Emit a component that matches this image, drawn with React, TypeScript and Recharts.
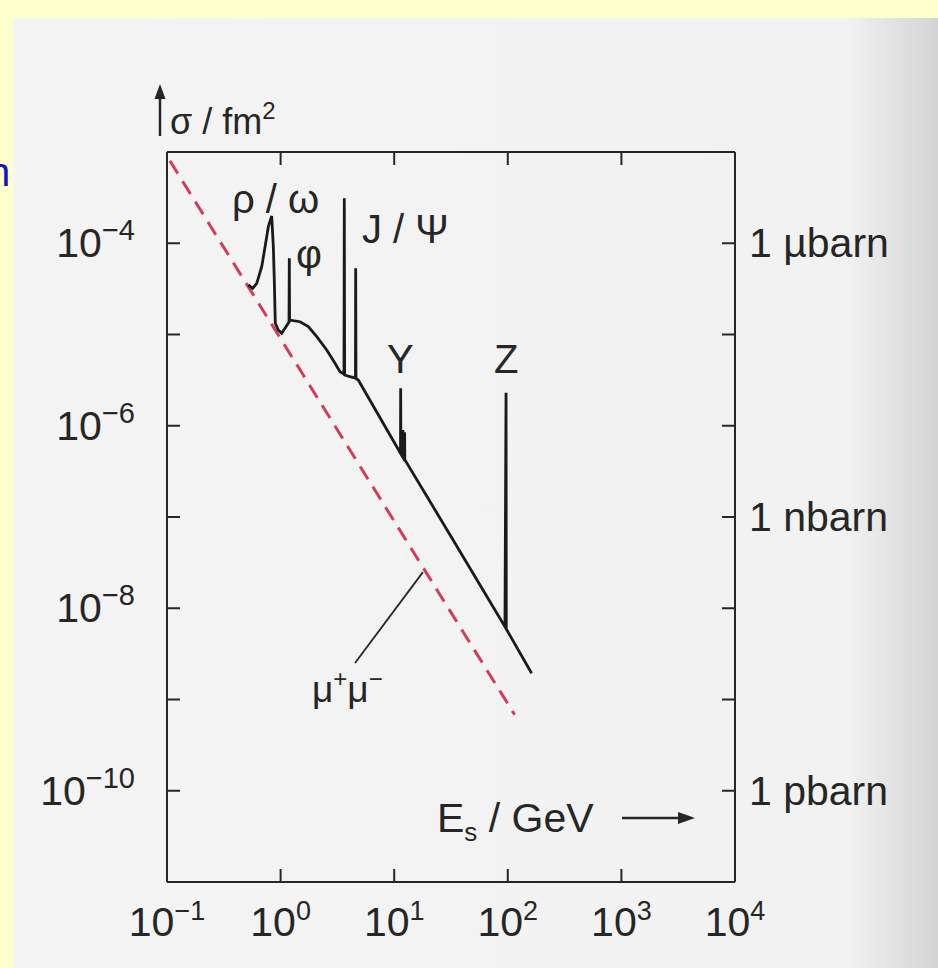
import React from 'react';
import { LineChart, Line, XAxis, YAxis } from 'recharts';

// e+e- -> hadrons: energy in GeV, cross section in fm^2
const hadronE = [
  0.52, 0.568, 0.617, 0.682, 0.73, 0.78, 0.835, 0.863, 0.88, 0.898, 0.954, 1.023, 1.093,
  1.186, 1.193, 1.2, 1.483, 1.754, 2.08, 2.547, 3.013, 3.334, 3.614, 3.637, 3.66, 4.08,
  4.56, 4.58, 4.61, 4.83, 7.35, 11.36, 11.4, 11.45, 11.9, 11.95, 12.0, 12.3, 12.35, 12.4,
  33, 94.4, 96.5, 97, 162,
];
const hadronSigma = [
  3.49e-5, 3.21e-5, 3.64e-5, 5.53e-5, 9.16e-5, 1.52e-4, 1.99e-4, 9.16e-5, 3.95e-5, 1.33e-5,
  1.12e-5, 1.03e-5, 1.17e-5, 1.37e-5, 6.84e-5, 1.44e-5, 1.38e-5, 1.22e-5, 9.46e-6, 6.76e-6,
  4.83e-6, 3.91e-6, 3.69e-6, 3.11e-4, 3.6e-6, 3.45e-6, 3.33e-6, 5.31e-5, 3.3e-6, 3.17e-6,
  1.28e-6, 4.99e-7, 2.57e-6, 4.95e-7, 4.55e-7, 9.0e-7, 4.5e-7, 4.3e-7, 8.5e-7, 4.25e-7,
  5.6e-8, 6.28e-9, 2.3e-6, 5.92e-9, 1.94e-9,
];

// e+e- -> mu+ mu- (dashed)
const muE = [0.106, 1, 10, 115];
const muSigma = [8.0e-4, 9.0e-6, 9.0e-8, 6.8e-10];

// pointer from the mu+mu- label to the dashed line
const leaderE = [4.52, 17.9];
const leaderSigma = [2.51e-9, 2.49e-8];

const xTicks = [0.1, 1, 10, 100, 1000, 10000];
const xTopTicks = [1, 10, 100, 1000];
const yTicks = [1e-10, 1e-9, 1e-8, 1e-7, 1e-6, 1e-5, 1e-4];
const leftLabelExps = [-4, -6, -8, -10];
const rightLabels: Record<string, string> = { '-4': '1 µbarn', '-7': '1 nbarn', '-10': '1 pbarn' };

const hadron = hadronE.map((E, i) => ({ E, s: hadronSigma[i] }));
const mu = muE.map((E, i) => ({ E, s: muSigma[i] }));
const leader = leaderE.map((E, i) => ({ E, s: leaderSigma[i] }));

const FONT = '"Liberation Sans", Arial, Helvetica, sans-serif';
const INK = '#262626';
const TICK = 13;

const expOf = (v: number) => Math.round(Math.log10(v));
const supText = (e: number) => (e < 0 ? '\u2212' + -e : String(e));

function BottomTick(props: any) {
  const { x, y, payload } = props;
  const e = expOf(payload.value);
  return (
    <g>
      {e > -1 && e < 4 && <line x1={x} y1={y} x2={x} y2={y - TICK} stroke={INK} strokeWidth={2} />}
      <text x={x} y={y + 54} textAnchor='middle' fontFamily={FONT} fontSize={41} fill={INK}>
        <tspan>10</tspan>
        <tspan dy={-16} fontSize={27}>
          {supText(e)}
        </tspan>
      </text>
    </g>
  );
}

function TopTick(props: any) {
  const { x, y } = props;
  return <line x1={x} y1={y} x2={x} y2={y + TICK} stroke={INK} strokeWidth={2} />;
}

function LeftTick(props: any) {
  const { x, y, payload } = props;
  const e = expOf(payload.value);
  return (
    <g>
      <line x1={x} y1={y} x2={x + TICK} y2={y} stroke={INK} strokeWidth={2} />
      {leftLabelExps.includes(e) && (
        <text x={x - 32} y={y + 14} textAnchor='end' fontFamily={FONT} fontSize={41} fill={INK}>
          <tspan>10</tspan>
          <tspan dy={-17} fontSize={29}>
            {supText(e)}
          </tspan>
        </text>
      )}
    </g>
  );
}

function RightTick(props: any) {
  const { x, y, payload } = props;
  const label = rightLabels[String(expOf(payload.value))];
  return (
    <g>
      <line x1={x} y1={y} x2={x - TICK} y2={y} stroke={INK} strokeWidth={2} />
      {label && (
        <text x={x + 14} y={y + 14} fontFamily={FONT} fontSize={41} fill={INK}>
          {label}
        </text>
      )}
    </g>
  );
}

export default function App() {
  const txt = { fontFamily: FONT, fontSize: 40, fill: INK };
  return (
    <div
      style={{
        position: 'absolute',
        left: 0,
        top: 0,
        width: 938,
        height: 968,
        background: '#ffffcc',
        overflow: 'hidden',
      }}
    >
      {/* scanned page */}
      <div
        style={{
          position: 'absolute',
          left: 13,
          top: 18,
          right: 0,
          bottom: 0,
          background: 'linear-gradient(to right, #f4f4f4 0%, #f2f2f2 90%, #d4d4d4 100%)',
        }}
      />
      <svg width={938} height={968} style={{ position: 'absolute', left: 0, top: 0 }}>
        <text x={-12} y={186} fontFamily={FONT} fontSize={40} fill='#1414c0'>
          n
        </text>
      </svg>

      <div style={{ position: 'absolute', left: 0, top: 0 }}>
        <LineChart width={938} height={968} margin={{ top: 132, right: 23, bottom: 26, left: 27 }}>
          <XAxis
            xAxisId='b'
            dataKey='E'
            type='number'
            scale='log'
            domain={[0.1, 10000]}
            allowDataOverflow
            ticks={xTicks}
            interval={0}
            tickSize={0}
            tickMargin={0}
            tickLine={false}
            tick={<BottomTick />}
            height={60}
            axisLine={{ stroke: INK, strokeWidth: 2 }}
          />
          <XAxis
            xAxisId='t'
            orientation='top'
            dataKey='E'
            type='number'
            scale='log'
            domain={[0.1, 10000]}
            allowDataOverflow
            ticks={xTopTicks}
            interval={0}
            tickSize={0}
            tickMargin={0}
            tickLine={false}
            tick={<TopTick />}
            height={20}
            axisLine={{ stroke: INK, strokeWidth: 2 }}
          />
          <YAxis
            yAxisId='l'
            type='number'
            scale='log'
            domain={[1e-11, 1e-3]}
            allowDataOverflow
            ticks={yTicks}
            interval={0}
            tickSize={0}
            tickMargin={0}
            tickLine={false}
            tick={<LeftTick />}
            width={140}
            axisLine={{ stroke: INK, strokeWidth: 2 }}
          />
          <YAxis
            yAxisId='r'
            orientation='right'
            type='number'
            scale='log'
            domain={[1e-11, 1e-3]}
            allowDataOverflow
            ticks={yTicks}
            interval={0}
            tickSize={0}
            tickMargin={0}
            tickLine={false}
            tick={<RightTick />}
            width={180}
            axisLine={{ stroke: INK, strokeWidth: 2 }}
          />
          <Line
            xAxisId='t'
            yAxisId='r'
            data={mu}
            dataKey='s'
            type='linear'
            stroke='#d23c5c'
            strokeWidth={3}
            strokeDasharray='15 9'
            dot={false}
            isAnimationActive={false}
          />
          <Line
            xAxisId='b'
            yAxisId='l'
            data={leader}
            dataKey='s'
            type='linear'
            stroke={INK}
            strokeWidth={1.8}
            dot={false}
            isAnimationActive={false}
          />
          <Line
            xAxisId='b'
            yAxisId='l'
            data={hadron}
            dataKey='s'
            type='linear'
            stroke='#1a1a1a'
            strokeWidth={2.8}
            dot={false}
            isAnimationActive={false}
          />
        </LineChart>
      </div>

      {/* annotations */}
      <svg width={938} height={968} style={{ position: 'absolute', left: 0, top: 0, pointerEvents: 'none' }}>
        <line x1={160} y1={136} x2={160} y2={96} stroke={INK} strokeWidth={2.5} />
        <polygon points='160,84 154.5,99 165.5,99' fill={INK} />
        <text x={170} y={134} {...txt} fontSize={36}>
          σ / fm
          <tspan dy={-15} fontSize={24}>
            2
          </tspan>
        </text>

        <text x={437} y={832} {...txt} fontSize={41}>
          E
          <tspan dy={9} fontSize={26}>
            s
          </tspan>
          <tspan dy={-9}> / GeV</tspan>
        </text>
        <line x1={622} y1={818} x2={680} y2={818} stroke={INK} strokeWidth={2.5} />
        <polygon points='695,818 678,812 678,824' fill={INK} />

        <text x={232} y={213} {...txt}>
          ρ / ω
        </text>
        <text x={296} y={268} {...txt}>
          φ
        </text>
        <text x={362} y={243} {...txt}>
          J / Ψ
        </text>
        <text x={387} y={373} {...txt}>
          Υ
        </text>
        <text x={494} y={373} {...txt}>
          Z
        </text>
        <text x={312} y={702} {...txt} fontSize={37}>
          μ
          <tspan dy={-15} fontSize={24}>
            +
          </tspan>
          <tspan dy={15}>μ</tspan>
          <tspan dy={-15} fontSize={24}>
            −
          </tspan>
        </text>
      </svg>
    </div>
  );
}
